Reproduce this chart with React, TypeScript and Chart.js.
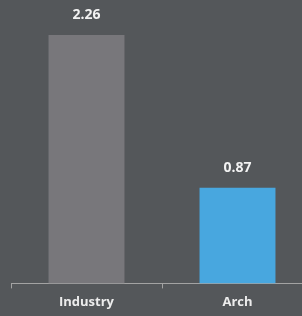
import React, { useEffect, useRef } from "react";
import { Chart, registerables } from "chart.js";

Chart.register(...registerables);

const categories = ["Industry", "Arch"];
const values = [2.26, 0.87];
const valueLabels = ["2.26", "0.87"];
const barColors = ["#78777b", "#48a7df"];

const BG = "#54575a";

const valueLabelPlugin = {
  id: "valueLabels",
  afterDatasetsDraw(chart: any) {
    const ctx = chart.ctx;
    const meta = chart.getDatasetMeta(0);
    ctx.save();
    ctx.fillStyle = "#f2f2f2";
    ctx.font = "bold 14px 'Open Sans'";
    ctx.textAlign = "center";
    ctx.textBaseline = "middle";
    meta.data.forEach((bar: any, i: number) => {
      ctx.fillText(valueLabels[i], bar.x, bar.y - 20);
    });
    ctx.restore();
  },
};

export default function App() {
  const ref = useRef<HTMLCanvasElement>(null);
  useEffect(() => {
    if (!ref.current) return;
    const chart = new Chart(ref.current, {
      type: "bar",
      data: {
        labels: categories,
        datasets: [
          {
            data: values,
            backgroundColor: barColors,
            borderWidth: 0,
            categoryPercentage: 1,
            barPercentage: 0.503,
          },
        ],
      },
      options: {
        responsive: false,
        animation: false,
        layout: { padding: { left: 11, right: 0, top: 0, bottom: 0 } },
        plugins: { legend: { display: false }, tooltip: { enabled: false } },
        scales: {
          x: {
            offset: true,
            grid: {
              offset: true,
              drawOnChartArea: false,
              drawTicks: true,
              tickLength: 5,
              color: "#a3a3a3",
              lineWidth: 1,
            },
            border: { display: true, color: "#a3a3a3", width: 1 },
            ticks: {
              color: "#ececec",
              font: { family: "'Open Sans'", size: 13, weight: "bold" },
              padding: 6,
              maxRotation: 0,
            },
          },
          y: {
            display: false,
            min: 0,
            max: 2.578,
          },
        },
      },
      plugins: [valueLabelPlugin],
    });
    return () => chart.destroy();
  }, []);
  return (
    <div
      style={{
        position: "fixed",
        left: 0,
        top: 0,
        width: 302,
        height: 316,
        overflow: "hidden",
        background: BG,
      }}
    >
      <canvas ref={ref} width={313} height={316} style={{ display: "block" }} />
    </div>
  );
}
